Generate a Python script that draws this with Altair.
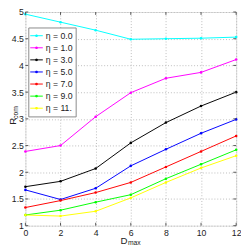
import altair as alt
import pandas as pd

D = [0, 2, 4, 6, 8, 10, 12]
labels = ["η = 0.0", "η = 1.0", "η = 3.0", "η = 5.0", "η = 7.0", "η = 9.0", "η = 11."]
colors = ["#00FFFF", "#FF00FF", "#000000", "#0000FF", "#FF0000", "#00FF00", "#FFFF00"]
eta0 = [4.96, 4.81, 4.66, 4.49, 4.50, 4.51, 4.53]
eta1 = [2.39, 2.50, 3.04, 3.49, 3.76, 3.87, 4.11]
eta3 = [1.73, 1.83, 2.07, 2.55, 2.93, 3.24, 3.50]
eta5 = [1.67, 1.49, 1.70, 2.12, 2.43, 2.73, 2.99]
eta7 = [1.34, 1.47, 1.62, 1.81, 2.10, 2.39, 2.68]
eta9 = [1.20, 1.29, 1.44, 1.58, 1.88, 2.15, 2.42]
eta11 = [1.20, 1.18, 1.27, 1.52, 1.81, 2.08, 2.31]
series = [eta0, eta1, eta3, eta5, eta7, eta9, eta11]
xticks = [0, 2, 4, 6, 8, 10, 12]
yticks = [1, 1.5, 2, 2.5, 3, 3.5, 4, 4.5, 5]

rows = []
for lab, vals in zip(labels, series):
    for d, v in zip(D, vals):
        rows.append({"D": d, "R": v, "eta": lab})
df = pd.DataFrame(rows)

W, H = 218, 221
FONT = "Liberation Sans"

xs = alt.Scale(domain=[0, 12], nice=False, zero=False)
ys = alt.Scale(domain=[1, 5], nice=False, zero=False)

axis_common = dict(title=None, grid=True, gridDash=[1, 2], gridColor="#bbbbbb",
                   domain=False, ticks=False, labelFont=FONT, labelFontSize=9,
                   labelColor="#222", labelOverlap=False, labelFlush=False, format="~g")
xaxis = alt.Axis(values=xticks, labelPadding=3, **axis_common)
yaxis = alt.Axis(values=yticks, labelPadding=2, **axis_common)

lines = alt.Chart(df).mark_line(strokeWidth=1, point=alt.OverlayMarkDef(size=7, filled=True)).encode(
    x=alt.X("D:Q", scale=xs, axis=xaxis),
    y=alt.Y("R:Q", scale=ys, axis=yaxis),
    color=alt.Color("eta:N", scale=alt.Scale(domain=labels, range=colors),
                    legend=alt.Legend(orient="none", legendX=3, legendY=16, title=None,
                                      symbolType="M-1.3,0H1.3M-0.15,-0.15H0.15V0.15H-0.15Z",
                                      symbolSize=100, symbolStrokeWidth=1,
                                      labelFont=FONT, labelFontSize=9, labelColor="#222",
                                      labelOffset=4, rowPadding=1.5, padding=3,
                                      strokeColor="#888", fillColor="white", cornerRadius=0)),
)

tx = pd.DataFrame({"t": xticks})
ty = pd.DataFrame({"t": yticks})
tick_style = dict(color="#555", strokeWidth=1)
xt_bot = alt.Chart(tx).mark_rule(**tick_style).encode(x=alt.X("t:Q", scale=xs, axis=xaxis), y=alt.value(H), y2=alt.value(H - 3))
xt_top = alt.Chart(tx).mark_rule(**tick_style).encode(x=alt.X("t:Q", scale=xs, axis=xaxis), y=alt.value(0), y2=alt.value(3))
yt_l = alt.Chart(ty).mark_rule(**tick_style).encode(y=alt.Y("t:Q", scale=ys, axis=yaxis), x=alt.value(0), x2=alt.value(3))
yt_r = alt.Chart(ty).mark_rule(**tick_style).encode(y=alt.Y("t:Q", scale=ys, axis=yaxis), x=alt.value(W), x2=alt.value(W - 3))

title_df = pd.DataFrame({"a": [0]})
rt = alt.Chart(title_df).mark_text(text="R", font=FONT, fontSize=10, angle=270, align="center",
                                   baseline="middle", color="#222").encode(x=alt.value(-12.5), y=alt.value(113))
ct = alt.Chart(title_df).mark_text(text="com", font=FONT, fontSize=7, angle=270, align="center",
                                   baseline="middle", color="#222").encode(x=alt.value(-10), y=alt.value(104))
dt = alt.Chart(title_df).mark_text(text="D", font=FONT, fontSize=10, align="center",
                                   baseline="middle", color="#222").encode(x=alt.value(102), y=alt.value(237))
mt = alt.Chart(title_df).mark_text(text="max", font=FONT, fontSize=7, align="left",
                                   baseline="middle", color="#222").encode(x=alt.value(106), y=alt.value(239))

chart = alt.layer(lines, xt_bot, xt_top, yt_l, yt_r, rt, ct, dt, mt).properties(
    width=W, height=H,
    autosize=alt.AutoSizeParams(type="none"),
    padding={"left": 18, "top": 0, "right": 5, "bottom": 21},
).configure_view(stroke="#666", strokeWidth=1).configure(background="white")

chart.save("out.html", embed_options={"renderer": "svg", "actions": False})
